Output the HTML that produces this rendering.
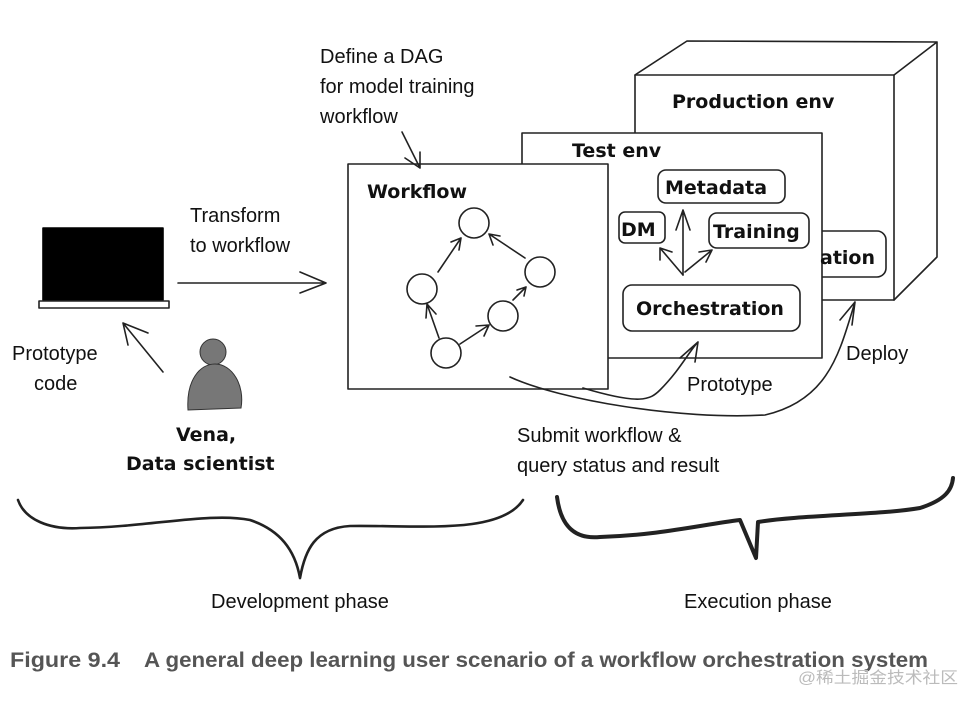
<!DOCTYPE html>
<html><head><meta charset="utf-8"><style>
html,body{margin:0;padding:0;background:#fff;}
svg{display:block;}
.t{font-family:"Liberation Sans",sans-serif;font-size:20px;fill:#111;}
.h{font-family:"DejaVu Sans",sans-serif;font-size:19px;fill:#111;font-weight:bold;}
</style></head><body>
<svg width="978" height="706" viewBox="0 0 978 706" xmlns="http://www.w3.org/2000/svg">
<g fill="none" stroke="#222" stroke-width="1.6" stroke-linecap="round" stroke-linejoin="round">
<rect x="635" y="75" width="259" height="225" fill="#fff"/>
<path d="M635 75 L687 41 L937 42 L937 257 L894 300 M894 75 L937 42"/>
<rect x="810" y="231" width="76" height="46" rx="9" fill="#fff"/>
<rect x="522" y="133" width="300" height="225" fill="#fff"/>
<rect x="658" y="170" width="127" height="33" rx="8"/>
<rect x="619" y="212" width="46" height="31" rx="6"/>
<rect x="709" y="213" width="100" height="35" rx="8"/>
<rect x="623" y="285" width="177" height="46" rx="9"/>
<path d="M683 275 L683 210 M676 230 L683 210 L690 230"/>
<path d="M683 275 L660 248 M660 260 L660 248 L672 252"/>
<path d="M685 272 L712 250 M699 252 L712 250 L706 262"/>
<rect x="348" y="164" width="260" height="225" fill="#fff"/>
<circle cx="474" cy="223" r="15"/><circle cx="422" cy="289" r="15"/>
<circle cx="540" cy="272" r="15"/><circle cx="503" cy="316" r="15"/>
<circle cx="446" cy="353" r="15"/>
<path d="M438 272 L461 238 M451 242 L461 238 L459 250"/>
<path d="M525 258 L489 234 M493 245 L489 234 L500 236"/>
<path d="M439 338 L427 304 M426 318 L427 304 L436 314"/>
<path d="M460 344 L489 325 M476 326 L489 325 L484 336"/>
<path d="M513 300 L526 287 M517 290 L526 287 L524 296"/>
<path d="M402 132 L420 168 M405 158 L420 168 L420 152"/>
<path d="M178 283 L326 283 M300 272 L326 283 L300 293"/>
<path d="M163 372 L123 323 M128 345 L123 323 L148 333"/>
<rect x="43" y="228" width="120" height="72" fill="#000" stroke="#000"/>
<path d="M39 301 L169 301 L169 308 L39 308 Z"/>
<path d="M510 377 C560 400 680 420 765 415 C830 400 840 350 855 302 M840 320 L855 302 L852 325"/>
<path d="M583 388 C640 405 650 400 660 390 C680 370 690 350 698 342 M680 358 L698 342 L695 362"/>
<path d="M18 500 C25 520 50 530 80 528 C150 527 210 512 250 520 C280 530 295 550 300 578 M300 578 C305 550 315 528 350 526 C420 525 500 535 523 500" stroke-width="2.6"/>
<path d="M557 497 C560 520 570 540 600 537 C660 535 700 525 740 520 L756 558 L758 522 C800 515 880 515 920 508 C945 500 952 490 953 478" stroke-width="4"/>
</g>
<circle cx="213" cy="352" r="13" fill="#777" stroke="#333"/>
<path d="M188 410 C186 380 200 364 215 364 C232 364 245 385 241 408 Z" fill="#777" stroke="#333"/>
<text class="t" x="320" y="63">Define a DAG</text>
<text class="t" x="320" y="93">for model training</text>
<text class="t" x="320" y="123">workflow</text>
<text class="t" x="190" y="222">Transform</text>
<text class="t" x="190" y="252">to workflow</text>
<text class="t" x="12" y="360">Prototype</text>
<text class="t" x="34" y="390">code</text>
<text class="h" x="176" y="441">Vena,</text>
<text class="h" x="126" y="470">Data scientist</text>
<text class="h" x="367" y="198">Workflow</text>
<text class="h" x="572" y="157" font-size="20">Test env</text>
<text class="h" x="672" y="108" font-size="20">Production env</text>
<text class="h" x="665" y="194">Metadata</text>
<text class="h" x="621" y="236">DM</text>
<text class="h" x="713" y="238">Training</text>
<text class="h" x="636" y="315">Orchestration</text>
<text class="h" x="820" y="264">ation</text>
<text class="t" x="846" y="360">Deploy</text>
<text class="t" x="687" y="391">Prototype</text>
<text class="t" x="517" y="442">Submit workflow &amp;</text>
<text class="t" x="517" y="472">query status and result</text>
<text class="t" x="211" y="608">Development phase</text>
<text class="t" x="684" y="608">Execution phase</text>
<text x="10" y="667" font-family="Liberation Sans,sans-serif" font-weight="bold" font-size="21" fill="#555" textLength="110" lengthAdjust="spacingAndGlyphs">Figure 9.4</text>
<text x="144" y="667" font-family="Liberation Sans,sans-serif" font-weight="bold" font-size="21" fill="#555" textLength="784" lengthAdjust="spacingAndGlyphs">A general deep learning user scenario of a workflow orchestration system</text>
<text x="798" y="683" font-family="Liberation Sans,'Noto Sans CJK SC',sans-serif" font-size="16" fill="#bbb" textLength="160" lengthAdjust="spacingAndGlyphs">@稀土掘金技术社区</text>
</svg>
</body></html>
